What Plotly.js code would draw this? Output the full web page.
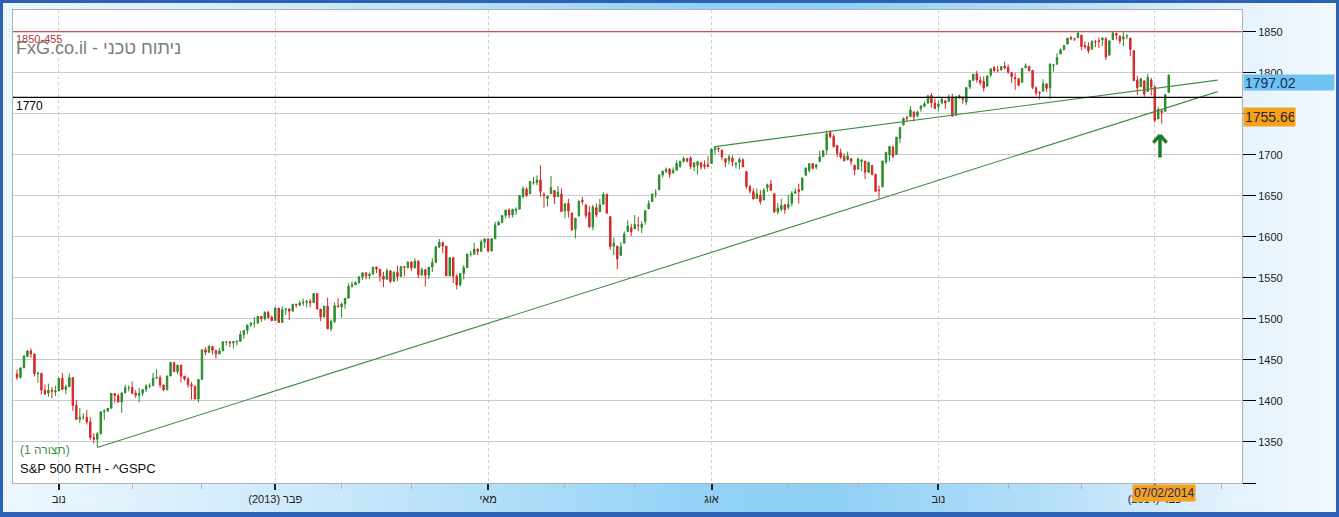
<!DOCTYPE html>
<html>
<head>
<meta charset="utf-8">
<script src="https://cdn.plot.ly/plotly-3.0.1.min.js"></script>
<style>
  html, body { margin:0; padding:0; overflow:hidden; }
  #wrap { position:relative; width:1339px; height:517px;
    background: linear-gradient(to right, #eef7fe 0%, #c4e6fa 28%, #93d2f6 52%, #8fd0f5 62%, #b4def8 78%, #e4f2fc 92%, #f3f9fe 100%); }
  #chart { position:absolute; left:0; top:0; width:1339px; height:517px; }
  #frame { position:absolute; left:0; top:0; width:1339px; height:517px; box-sizing:border-box;
    border:3px solid #2b62b6; border-bottom-width:5px; pointer-events:none; }
</style>
</head>
<body>
<div id="wrap"><div id="chart"></div><div id="frame"></div></div>
<script>
// ---- Data: S&P 500 daily candles ----
const dates = [
'2012-10-12','2012-10-15','2012-10-16','2012-10-17','2012-10-18','2012-10-19','2012-10-22','2012-10-23','2012-10-24','2012-10-25','2012-10-26','2012-10-31',
'2012-11-01','2012-11-02','2012-11-05','2012-11-06','2012-11-07','2012-11-08','2012-11-09','2012-11-12','2012-11-13','2012-11-14','2012-11-15','2012-11-16','2012-11-19','2012-11-20','2012-11-21','2012-11-23','2012-11-26','2012-11-27','2012-11-28','2012-11-29','2012-11-30',
'2012-12-03','2012-12-04','2012-12-05','2012-12-06','2012-12-07','2012-12-10','2012-12-11','2012-12-12','2012-12-13','2012-12-14','2012-12-17','2012-12-18','2012-12-19','2012-12-20','2012-12-21','2012-12-24','2012-12-26','2012-12-27','2012-12-28','2012-12-31',
'2013-01-02','2013-01-03','2013-01-04','2013-01-07','2013-01-08','2013-01-09','2013-01-10','2013-01-11','2013-01-14','2013-01-15','2013-01-16','2013-01-17','2013-01-18','2013-01-22','2013-01-23','2013-01-24','2013-01-25','2013-01-28','2013-01-29','2013-01-30','2013-01-31',
'2013-02-01','2013-02-04','2013-02-05','2013-02-06','2013-02-07','2013-02-08','2013-02-11','2013-02-12','2013-02-13','2013-02-14','2013-02-15','2013-02-19','2013-02-20','2013-02-21','2013-02-22','2013-02-25','2013-02-26','2013-02-27','2013-02-28',
'2013-03-01','2013-03-04','2013-03-05','2013-03-06','2013-03-07','2013-03-08','2013-03-11','2013-03-12','2013-03-13','2013-03-14','2013-03-15','2013-03-18','2013-03-19','2013-03-20','2013-03-21','2013-03-22','2013-03-25','2013-03-26','2013-03-27','2013-03-28',
'2013-04-01','2013-04-02','2013-04-03','2013-04-04','2013-04-05','2013-04-08','2013-04-09','2013-04-10','2013-04-11','2013-04-12','2013-04-15','2013-04-16','2013-04-17','2013-04-18','2013-04-19','2013-04-22','2013-04-23','2013-04-24','2013-04-25','2013-04-26','2013-04-29','2013-04-30',
'2013-05-01','2013-05-02','2013-05-03','2013-05-06','2013-05-07','2013-05-08','2013-05-09','2013-05-10','2013-05-13','2013-05-14','2013-05-15','2013-05-16','2013-05-17','2013-05-20','2013-05-21','2013-05-22','2013-05-23','2013-05-24','2013-05-28','2013-05-29','2013-05-30','2013-05-31',
'2013-06-03','2013-06-04','2013-06-05','2013-06-06','2013-06-07','2013-06-10','2013-06-11','2013-06-12','2013-06-13','2013-06-14','2013-06-17','2013-06-18','2013-06-19','2013-06-20','2013-06-21','2013-06-24','2013-06-25','2013-06-26','2013-06-27','2013-06-28',
'2013-07-01','2013-07-02','2013-07-03','2013-07-05','2013-07-08','2013-07-09','2013-07-10','2013-07-11','2013-07-12','2013-07-15','2013-07-16','2013-07-17','2013-07-18','2013-07-19','2013-07-22','2013-07-23','2013-07-24','2013-07-25','2013-07-26','2013-07-29','2013-07-30','2013-07-31',
'2013-08-01','2013-08-02','2013-08-05','2013-08-06','2013-08-07','2013-08-08','2013-08-09','2013-08-12','2013-08-13','2013-08-14','2013-08-15','2013-08-16','2013-08-19','2013-08-20','2013-08-21','2013-08-22','2013-08-23','2013-08-26','2013-08-27','2013-08-28','2013-08-29','2013-08-30',
'2013-09-03','2013-09-04','2013-09-05','2013-09-06','2013-09-09','2013-09-10','2013-09-11','2013-09-12','2013-09-13','2013-09-16','2013-09-17','2013-09-18','2013-09-19','2013-09-20','2013-09-23','2013-09-24','2013-09-25','2013-09-26','2013-09-27','2013-09-30',
'2013-10-01','2013-10-02','2013-10-03','2013-10-04','2013-10-07','2013-10-08','2013-10-09','2013-10-10','2013-10-11','2013-10-14','2013-10-15','2013-10-16','2013-10-17','2013-10-18','2013-10-21','2013-10-22','2013-10-23','2013-10-24','2013-10-25','2013-10-28','2013-10-29','2013-10-30','2013-10-31',
'2013-11-01','2013-11-04','2013-11-05','2013-11-06','2013-11-07','2013-11-08','2013-11-11','2013-11-12','2013-11-13','2013-11-14','2013-11-15','2013-11-18','2013-11-19','2013-11-20','2013-11-21','2013-11-22','2013-11-25','2013-11-26','2013-11-27','2013-11-29',
'2013-12-02','2013-12-03','2013-12-04','2013-12-05','2013-12-06','2013-12-09','2013-12-10','2013-12-11','2013-12-12','2013-12-13','2013-12-16','2013-12-17','2013-12-18','2013-12-19','2013-12-20','2013-12-23','2013-12-24','2013-12-26','2013-12-27','2013-12-30','2013-12-31',
'2014-01-02','2014-01-03','2014-01-06','2014-01-07','2014-01-08','2014-01-09','2014-01-10','2014-01-13','2014-01-14','2014-01-15','2014-01-16','2014-01-17','2014-01-21','2014-01-22','2014-01-23','2014-01-24','2014-01-27','2014-01-28','2014-01-29','2014-01-30','2014-01-31',
'2014-02-03','2014-02-04','2014-02-05','2014-02-06','2014-02-07'
];
const open = [
1432.8,1428.8,1440.3,1454.2,1460.9,1457.3,1433.2,1433.7,1413.2,1409.7,1413.0,1411.0,
1412.2,1427.6,1414.0,1417.3,1428.3,1394.5,1377.6,1379.9,1380.0,1374.6,1355.4,1353.4,1359.9,1386.8,1387.8,1391.0,1409.2,1406.3,1398.8,1410.0,1416.0,
1416.3,1409.5,1407.1,1409.4,1414.0,1418.1,1418.6,1427.8,1428.5,1419.5,1413.5,1430.5,1446.8,1435.8,1443.7,1430.2,1426.7,1419.8,1418.1,1402.4,
1426.2,1462.4,1459.4,1466.5,1461.9,1457.2,1461.0,1472.1,1472.1,1470.7,1472.3,1472.6,1481.0,1486.0,1492.6,1494.8,1494.8,1503.0,1500.2,1507.8,1502.0,
1498.1,1513.2,1495.7,1511.3,1512.1,1509.4,1517.9,1517.0,1519.4,1520.3,1521.4,1519.8,1530.9,1512.0,1502.4,1515.6,1487.9,1496.9,1516.0,
1514.7,1518.2,1525.2,1539.8,1541.5,1544.3,1551.2,1556.2,1552.5,1554.5,1563.2,1560.7,1552.1,1548.3,1558.7,1545.9,1556.9,1551.7,1563.8,1562.9,
1569.2,1562.2,1570.3,1553.7,1560.0,1553.3,1563.1,1568.6,1587.7,1593.3,1588.8,1552.4,1574.6,1552.0,1541.6,1555.3,1562.5,1578.8,1578.8,1585.2,1582.3,1593.6,
1597.6,1582.8,1597.6,1614.4,1617.6,1626.0,1632.7,1626.7,1632.1,1633.8,1649.1,1658.1,1652.5,1665.7,1666.2,1669.4,1651.6,1646.7,1652.6,1656.6,1649.1,1652.1,
1631.7,1640.7,1629.1,1609.3,1625.3,1644.7,1638.6,1629.9,1612.2,1635.5,1630.6,1639.8,1651.8,1624.6,1588.6,1588.8,1577.5,1592.3,1606.4,1611.1,
1609.8,1614.3,1611.5,1618.7,1634.2,1642.9,1652.3,1657.4,1675.3,1679.6,1682.7,1677.9,1681.1,1686.2,1692.1,1695.5,1696.1,1685.2,1687.3,1690.3,1687.9,1687.8,
1689.4,1706.1,1708.0,1705.8,1695.3,1693.4,1696.1,1688.4,1690.7,1693.9,1679.6,1661.2,1655.3,1646.8,1650.7,1645.0,1659.9,1664.3,1652.5,1630.3,1633.5,1638.9,
1636.0,1640.7,1653.3,1657.4,1656.9,1675.1,1681.0,1689.2,1685.0,1691.7,1697.7,1705.7,1727.3,1722.4,1711.4,1702.6,1698.0,1694.1,1695.5,1687.3,
1682.4,1691.9,1692.4,1678.8,1687.2,1676.2,1657.0,1660.9,1691.1,1699.9,1709.2,1700.5,1720.2,1736.7,1745.2,1746.5,1752.3,1747.5,1756.0,1759.4,1762.9,1772.3,1763.2,
1758.7,1763.4,1765.7,1765.0,1770.7,1748.4,1770.0,1769.5,1764.4,1782.8,1790.7,1798.8,1790.8,1789.6,1783.5,1797.2,1806.3,1802.9,1803.5,1808.0,
1806.6,1800.1,1794.2,1792.8,1788.4,1806.2,1807.6,1802.8,1781.7,1776.0,1777.5,1786.5,1781.5,1809.0,1810.4,1822.9,1828.0,1835.0,1843.0,1841.5,1842.6,
1845.9,1833.2,1832.3,1828.7,1837.9,1839.0,1840.1,1841.3,1821.4,1840.5,1848.0,1844.2,1841.1,1844.7,1842.3,1827.0,1791.0,1783.0,1790.2,1777.2,1790.9,
1782.7,1743.8,1753.4,1753.0,1776.0
];
const high = [
1438.4,1441.3,1455.5,1462.2,1464.0,1457.3,1435.5,1433.7,1420.0,1421.1,1417.1,1418.8,
1428.4,1434.3,1419.9,1433.4,1428.3,1401.2,1391.4,1384.9,1388.8,1380.1,1360.6,1362.0,1386.9,1389.8,1391.3,1409.2,1409.2,1409.0,1410.3,1419.7,1418.9,
1423.7,1413.1,1415.6,1414.0,1420.3,1421.6,1434.3,1438.6,1431.4,1419.5,1430.7,1448.0,1447.8,1443.7,1443.7,1430.2,1429.4,1422.8,1418.1,1426.7,
1462.4,1465.5,1467.9,1466.5,1461.9,1464.7,1472.3,1472.8,1472.1,1473.3,1474.0,1485.2,1486.0,1492.6,1496.1,1502.3,1503.3,1503.2,1509.4,1509.9,1504.2,
1514.4,1513.2,1515.0,1512.5,1512.9,1518.3,1518.3,1522.3,1524.7,1523.1,1524.2,1530.9,1530.9,1512.0,1515.6,1525.8,1499.0,1520.1,1525.3,
1520.0,1525.3,1543.5,1545.3,1545.8,1552.5,1556.3,1556.8,1556.4,1563.3,1563.6,1560.7,1557.3,1561.6,1558.7,1557.7,1564.9,1564.0,1564.1,1570.3,
1570.6,1573.7,1571.5,1562.6,1560.0,1563.1,1573.9,1589.1,1597.4,1593.3,1588.8,1575.4,1574.6,1554.4,1555.9,1565.6,1579.6,1583.0,1592.6,1585.8,1596.7,1597.6,
1597.6,1598.6,1618.5,1619.8,1626.0,1632.8,1635.0,1633.7,1636.0,1651.1,1661.5,1660.5,1667.5,1672.8,1674.9,1687.2,1654.4,1649.8,1674.2,1656.6,1661.9,1659.0,
1640.4,1646.5,1629.3,1622.6,1644.4,1648.7,1640.1,1637.7,1639.3,1640.8,1646.5,1654.2,1652.5,1624.6,1599.2,1588.8,1593.8,1606.8,1620.1,1615.9,
1626.6,1624.3,1619.0,1632.1,1644.7,1652.2,1657.9,1676.6,1680.2,1684.5,1683.7,1684.8,1693.1,1692.1,1697.6,1695.5,1698.4,1690.9,1691.9,1690.9,1693.2,1698.4,
1707.9,1709.7,1709.2,1705.8,1695.3,1700.2,1699.4,1691.5,1696.8,1695.5,1679.6,1663.6,1659.2,1658.9,1657.0,1659.6,1664.9,1669.5,1652.5,1641.2,1646.4,1640.1,
1651.4,1655.7,1659.2,1664.8,1672.4,1684.1,1689.1,1690.0,1688.7,1705.0,1705.5,1729.4,1729.9,1725.2,1711.4,1707.6,1701.7,1703.9,1695.5,1687.3,
1696.6,1693.9,1692.4,1691.9,1687.2,1676.8,1662.5,1692.6,1703.4,1711.0,1711.6,1721.8,1733.5,1745.3,1747.8,1759.3,1752.3,1753.9,1759.8,1765.0,1772.1,1775.2,1768.5,
1765.7,1768.8,1767.0,1773.7,1774.5,1770.8,1773.4,1771.8,1782.0,1791.5,1798.2,1802.3,1795.5,1795.7,1797.2,1804.8,1808.1,1808.4,1808.3,1813.6,
1810.0,1800.1,1799.8,1792.8,1806.0,1811.5,1808.5,1803.0,1783.0,1777.6,1792.2,1786.8,1811.1,1810.9,1823.8,1829.8,1833.3,1842.8,1844.9,1842.5,1849.4,
1845.9,1838.2,1837.2,1840.1,1840.0,1843.2,1843.2,1843.5,1839.3,1850.8,1848.0,1846.0,1849.3,1846.9,1842.3,1827.0,1796.0,1793.9,1790.2,1798.8,1793.9,
1784.8,1758.7,1755.8,1774.1,1798.0
];
const low = [
1425.5,1427.2,1440.3,1453.4,1452.6,1429.9,1422.1,1407.6,1407.1,1405.1,1403.3,1406.0,
1412.2,1412.9,1408.1,1417.3,1388.1,1377.5,1373.0,1377.2,1371.4,1352.5,1348.1,1343.4,1359.9,1377.0,1386.4,1391.0,1397.7,1398.0,1385.4,1409.0,1411.6,
1408.5,1403.7,1398.2,1405.9,1410.9,1415.6,1418.6,1426.8,1416.0,1411.9,1413.5,1430.5,1435.8,1432.8,1422.6,1424.7,1416.4,1401.8,1401.6,1398.1,
1426.2,1455.5,1459.0,1456.6,1451.6,1457.2,1461.0,1467.6,1465.7,1463.8,1467.6,1472.6,1475.8,1481.2,1489.9,1489.5,1494.8,1496.3,1498.1,1500.1,1496.8,
1498.1,1495.0,1495.7,1504.7,1498.5,1509.4,1513.6,1515.6,1515.9,1514.0,1514.1,1519.8,1511.4,1497.3,1502.4,1487.9,1485.0,1494.9,1514.5,
1501.5,1512.3,1525.2,1538.1,1541.5,1542.9,1547.4,1548.2,1548.3,1554.5,1555.7,1545.1,1538.6,1548.3,1543.6,1545.9,1546.2,1551.7,1551.9,1561.1,
1558.5,1562.2,1549.8,1552.5,1539.5,1548.6,1557.3,1568.6,1586.2,1580.0,1552.3,1552.4,1543.7,1536.0,1539.4,1548.2,1562.5,1575.8,1578.8,1577.6,1582.3,1586.5,
1581.3,1582.8,1597.6,1614.2,1616.6,1622.7,1623.1,1623.7,1626.7,1633.8,1646.7,1648.6,1652.5,1663.5,1662.7,1648.9,1635.5,1636.9,1652.6,1640.1,1648.6,1630.7,
1622.7,1623.6,1607.1,1598.2,1625.3,1639.3,1622.9,1610.9,1608.1,1624.0,1630.3,1639.8,1628.9,1584.3,1577.7,1560.3,1577.1,1592.3,1606.4,1601.1,
1609.8,1606.8,1604.6,1614.7,1634.2,1642.9,1647.7,1657.4,1672.3,1677.9,1671.8,1677.9,1681.1,1684.1,1690.7,1690.6,1682.6,1680.1,1676.0,1681.9,1682.4,1684.9,
1689.4,1700.7,1703.6,1693.3,1684.9,1688.4,1686.0,1683.4,1682.6,1684.8,1658.6,1652.6,1645.8,1646.1,1639.4,1645.0,1654.8,1656.0,1629.1,1627.5,1630.9,1628.1,
1633.4,1637.4,1653.1,1640.6,1656.9,1675.1,1678.7,1682.0,1682.2,1691.7,1697.7,1700.4,1720.2,1708.9,1697.1,1694.9,1691.9,1693.1,1687.1,1675.0,
1682.1,1680.3,1670.4,1677.3,1674.7,1655.0,1646.5,1660.9,1688.5,1692.1,1695.9,1700.5,1714.1,1735.7,1740.7,1746.5,1740.5,1745.5,1752.5,1757.7,1762.9,1757.2,1755.7,
1752.7,1761.6,1755.8,1764.4,1746.2,1747.6,1767.9,1762.3,1760.6,1780.2,1790.7,1788.0,1784.7,1777.2,1783.5,1794.7,1800.6,1800.8,1802.8,1804.0,
1798.6,1787.9,1779.1,1783.4,1788.4,1806.2,1801.8,1780.1,1772.3,1767.5,1777.5,1777.1,1768.0,1801.4,1810.3,1822.9,1828.0,1835.0,1839.8,1838.8,1842.4,
1827.7,1829.1,1823.7,1828.7,1831.4,1830.4,1832.4,1815.5,1821.4,1840.5,1840.3,1835.2,1832.4,1840.9,1820.1,1790.3,1772.9,1783.0,1770.5,1777.2,1772.3,
1739.7,1743.8,1737.9,1753.0,1776.0
];
const close = [
1428.6,1440.1,1454.9,1460.9,1457.3,1433.2,1433.8,1413.1,1408.8,1413.0,1411.9,1412.2,
1427.6,1414.2,1417.3,1428.4,1394.5,1377.5,1379.9,1380.0,1374.5,1355.5,1353.3,1359.9,1386.9,1387.8,1391.0,1409.2,1406.3,1398.9,1409.9,1416.0,1416.2,
1409.5,1407.1,1409.3,1413.9,1418.1,1418.6,1427.8,1428.5,1419.5,1413.6,1430.4,1446.8,1435.8,1443.7,1430.2,1426.7,1419.8,1418.1,1402.4,1426.2,
1462.4,1459.4,1466.5,1461.9,1457.2,1461.0,1472.1,1472.1,1470.7,1472.3,1472.6,1480.9,1486.0,1492.6,1494.8,1494.8,1503.0,1500.2,1507.8,1502.0,1498.1,
1513.2,1495.7,1511.3,1512.1,1509.4,1517.9,1517.0,1519.4,1520.3,1521.4,1519.8,1530.9,1512.0,1502.4,1515.6,1487.9,1496.9,1516.0,1514.7,
1518.2,1525.2,1539.8,1541.5,1544.3,1551.2,1556.2,1552.5,1554.5,1563.2,1560.7,1552.1,1548.3,1558.7,1545.8,1556.9,1551.7,1563.8,1562.9,1569.2,
1562.2,1570.3,1553.7,1560.0,1553.3,1563.1,1568.6,1587.7,1593.4,1588.9,1552.4,1574.6,1552.0,1541.6,1555.3,1562.5,1578.8,1578.8,1585.2,1582.2,1593.6,1597.6,
1582.7,1597.6,1614.4,1617.5,1626.0,1632.7,1626.7,1633.7,1633.8,1650.3,1658.8,1650.5,1667.5,1666.3,1669.2,1655.4,1650.5,1649.6,1660.1,1648.4,1654.4,1630.7,
1640.4,1631.4,1608.9,1622.6,1643.4,1642.8,1626.1,1612.5,1636.4,1626.7,1639.0,1651.8,1628.9,1588.2,1592.4,1573.1,1588.0,1603.3,1613.2,1606.3,
1615.0,1614.1,1615.4,1631.9,1640.5,1652.3,1652.6,1675.0,1680.2,1682.5,1676.3,1680.9,1689.4,1692.1,1695.5,1692.4,1685.9,1690.3,1691.7,1685.3,1686.0,1685.7,
1706.9,1709.7,1707.1,1697.4,1690.9,1697.5,1691.4,1689.5,1694.2,1685.4,1661.3,1655.8,1646.1,1652.4,1642.8,1657.0,1663.5,1656.8,1630.5,1635.0,1638.2,1633.0,
1639.8,1653.1,1655.1,1655.2,1671.7,1684.0,1689.1,1683.4,1688.0,1697.6,1704.8,1725.5,1722.3,1709.9,1701.8,1697.4,1692.8,1698.7,1691.8,1681.6,
1695.0,1693.9,1678.7,1690.5,1676.1,1655.5,1656.4,1692.6,1703.2,1710.1,1698.1,1721.5,1733.2,1744.5,1744.7,1754.7,1746.4,1752.1,1759.8,1762.1,1772.0,1763.3,1756.5,
1761.6,1767.9,1763.0,1770.5,1747.2,1770.6,1771.9,1767.7,1782.0,1790.6,1798.2,1791.5,1787.9,1781.4,1795.9,1804.8,1802.5,1802.8,1807.2,1805.8,
1800.9,1795.2,1792.8,1785.0,1805.1,1808.4,1802.6,1782.2,1775.5,1775.3,1786.5,1781.0,1810.7,1809.6,1818.3,1828.0,1833.3,1842.0,1841.4,1841.1,1848.4,
1832.0,1831.4,1826.8,1837.9,1837.5,1838.1,1842.4,1819.2,1838.9,1848.4,1845.9,1838.7,1843.8,1844.9,1828.5,1790.3,1781.6,1792.5,1774.2,1794.2,1782.6,
1741.9,1755.2,1751.6,1773.4,1797.02
];

// trend lines (x = trading-day index, y = price)
const trendLowerX = [23, 344];
const trendLowerY = [1343.35, 1777];
const trendUpperX = [200, 344];
const trendUpperY = [1710, 1791];

// horizontal levels and marked prices
const levelRed = 1850;
const levelBlack = 1770;
const trendLabelValue = 1755.66;

// axis labels
const majorTickDates = ['2012-11-01','2013-02-01','2013-05-01','2013-08-01','2013-11-01','2014-02-03'];
const majorTickText  = ['נוב','(2013) פבר','מאי','אוג','נוב','(2014) פבר'];
const yTicks = [1300,1350,1400,1450,1500,1550,1600,1650,1700,1750,1800,1850];
const yTicksHidden = [1300, 1750]; // covered in the original (axis end / price flag)
const futureMonthTick = [345]; // March 2014 (beyond last candle)

const idx = dates.map((d, i) => i);
const majorTickVals = majorTickDates.map(d => dates.indexOf(d));
const minorTickVals = [];
for (let i = 1; i < dates.length; i++) {
  if (dates[i].slice(0,7) !== dates[i-1].slice(0,7) && majorTickVals.indexOf(i) < 0) minorTickVals.push(i);
}
futureMonthTick.forEach(v => minorTickVals.push(v));

const last = dates.length - 1;
const FONT = 'Liberation Sans, Arial, sans-serif';
const green = '#1f7a26';

const traces = [
  {
    type: 'candlestick', x: idx, open: open, high: high, low: low, close: close,
    increasing: { line: { color: '#2a8a2a', width: 1 }, fillcolor: '#2e962e' },
    decreasing: { line: { color: '#d42626', width: 1 }, fillcolor: '#dc2a2a' },
    whiskerwidth: 0, hoverinfo: 'skip', showlegend: false
  },
  { type: 'scatter', mode: 'lines', x: trendLowerX, y: trendLowerY,
    line: { color: '#3a8f42', width: 1.1 }, hoverinfo: 'skip', showlegend: false },
  { type: 'scatter', mode: 'lines', x: trendUpperX, y: trendUpperY,
    line: { color: '#3a8f42', width: 1.1 }, hoverinfo: 'skip', showlegend: false }
];

function arrowPart(ax, ay) {
  return { x: 327.5, y: 1724, xref: 'x', yref: 'y', text: '', showarrow: true,
    arrowhead: 0, arrowwidth: 3.4, arrowcolor: green, ax: ax, ay: ay, standoff: 0 };
}

const layout = {
  width: 1339, height: 517,
  margin: { l: 13, r: 97, t: 10, b: 34, pad: 0 },
  paper_bgcolor: 'rgba(0,0,0,0)', plot_bgcolor: '#ffffff',
  font: { family: FONT, size: 11, color: '#222' },
  showlegend: false, hovermode: false, boxgap: 0.42,
  xaxis: {
    type: 'linear', range: [-1.146, 351.0], rangeslider: { visible: false },
    tickmode: 'array', tickvals: majorTickVals, ticktext: majorTickText,
    ticks: 'outside', ticklen: 6, tickwidth: 2, tickcolor: '#222',
    tickfont: { family: FONT, size: 11, color: '#222' },
    showgrid: true, gridcolor: '#cccccc', griddash: 'dot', gridwidth: 1,
    showline: true, linecolor: '#a9b1bd', linewidth: 1, mirror: true, zeroline: false,
    minor: { tickmode: 'array', tickvals: minorTickVals, ticks: 'outside', ticklen: 5,
             tickwidth: 1, tickcolor: '#cfa7b0', showgrid: false },
    fixedrange: true
  },
  yaxis: {
    side: 'right', range: [1300, 1876.5],
    tickmode: 'array', tickvals: yTicks,
    ticktext: yTicks.map(v => yTicksHidden.indexOf(v) >= 0 ? '' : String(v)),
    ticks: 'outside', ticklen: 13, tickwidth: 1, tickcolor: '#000',
    tickfont: { family: FONT, size: 11, color: '#222' },
    showgrid: true, gridcolor: '#cbcbcb', gridwidth: 1,
    showline: true, linecolor: '#a9b1bd', linewidth: 1, mirror: true, zeroline: false,
    fixedrange: true
  },
  shapes: [
    { type: 'line', xref: 'paper', x0: 0, x1: 1, yref: 'y', y0: levelRed, y1: levelRed,
      line: { color: '#b73333', width: 1 } },
    { type: 'line', xref: 'paper', x0: 0, x1: 1, yref: 'y', y0: levelBlack, y1: levelBlack,
      line: { color: '#000000', width: 1.3 } }
  ],
  annotations: [
    { xref: 'paper', x: 0, xanchor: 'left', xshift: 1, yref: 'y', y: levelRed, yanchor: 'top', yshift: 1,
      text: '1850-455', showarrow: false, font: { family: FONT, size: 11, color: '#b03a3a' } },
    { xref: 'paper', x: 0, xanchor: 'left', xshift: 1, yref: 'y', y: levelBlack, yanchor: 'top', yshift: 0,
      text: String(levelBlack), showarrow: false, font: { family: FONT, size: 12, color: '#000' } },
    { xref: 'paper', x: 0, xanchor: 'left', xshift: 1, yref: 'paper', y: 0.919, yanchor: 'middle',
      text: 'FxG.co.il - ניתוח טכני', showarrow: false, font: { family: FONT, size: 18, color: '#7c7c7c' } },
    { xref: 'paper', x: 0, xanchor: 'left', xshift: 5, yref: 'paper', y: 0.0698, yanchor: 'middle',
      text: '(תצורה 1)', showarrow: false, font: { family: FONT, size: 12, color: '#3d8f3d' } },
    { xref: 'paper', x: 0, xanchor: 'left', xshift: 5, yref: 'paper', y: 0.0296, yanchor: 'middle',
      text: 'S&P 500 RTH - ^GSPC', showarrow: false, font: { family: FONT, size: 13, color: '#111' } },
    { xref: 'paper', x: 1, xanchor: 'left', xshift: 1, yref: 'y', y: 1788.7, yanchor: 'middle',
      text: close[last].toFixed(2), showarrow: false, bgcolor: '#6ec3f1', width: 88, height: 13,
      align: 'left', borderpad: 1, font: { family: FONT, size: 14, color: '#1b2a5a' } },
    { xref: 'paper', x: 1, xanchor: 'left', xshift: 1, yref: 'y', y: 1746, yanchor: 'middle',
      text: trendLabelValue.toFixed(2), showarrow: false, bgcolor: '#f6a11b', width: 49, height: 16,
      align: 'left', borderpad: 1, font: { family: FONT, size: 14, color: '#2a2a2a' } },
    { xref: 'x', x: last, xshift: -5, xanchor: 'center', yref: 'paper', y: 0, yanchor: 'top', yshift: -1,
      text: '07/02/2014', showarrow: false, bgcolor: '#f6a11b', height: 14, borderpad: 1,
      font: { family: FONT, size: 12, color: '#1b2a6a' } },
    arrowPart(0, 24), arrowPart(-8, 9), arrowPart(8, 9)
  ]
};

Plotly.newPlot('chart', traces, layout, { displayModeBar: false, staticPlot: true });
</script>
</body>
</html>
